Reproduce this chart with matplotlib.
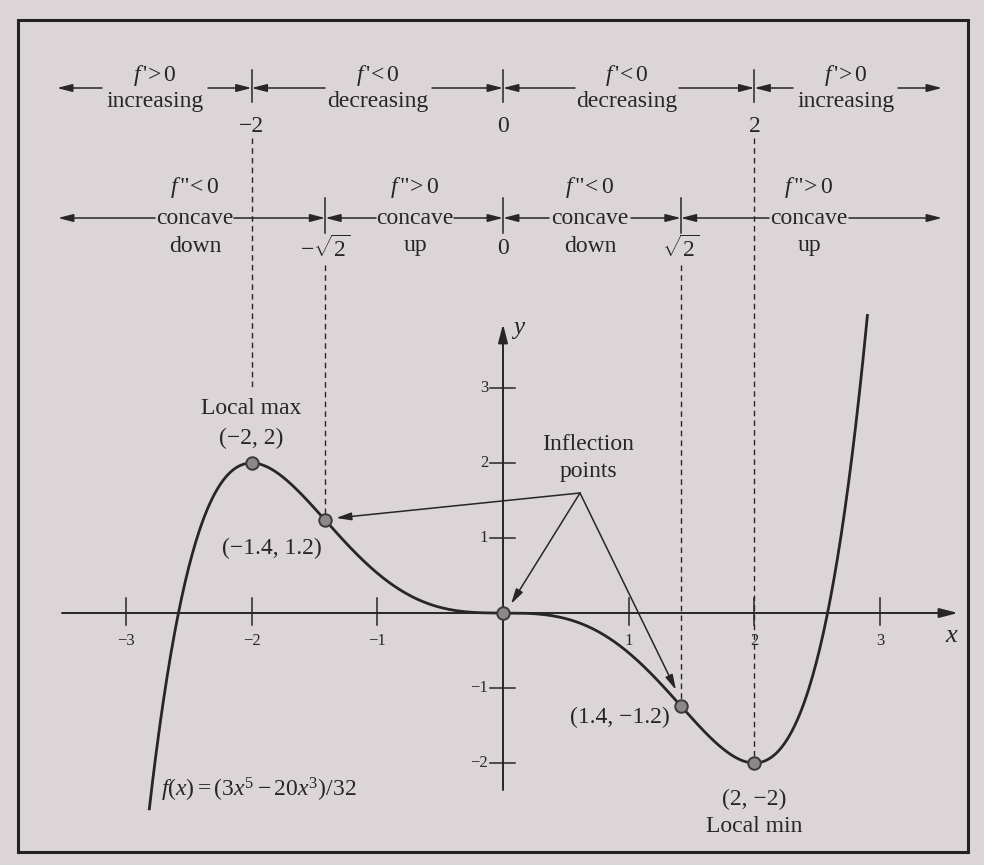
import numpy as np
import matplotlib
matplotlib.use("Agg")
import matplotlib.pyplot as plt
from matplotlib.patches import FancyArrowPatch, Rectangle

plt.rcParams['font.family'] = ['Liberation Serif', 'DejaVu Serif']
plt.rcParams['mathtext.fontset'] = 'custom'
plt.rcParams['mathtext.rm'] = 'Liberation Serif'
plt.rcParams['mathtext.it'] = 'Liberation Serif:italic'
plt.rcParams['mathtext.bf'] = 'Liberation Serif:bold'

# ---------------- data ----------------
coeffs = np.array([3, 0, -20, 0, 0, 0]) / 32.0      # f(x) = (3x^5 - 20x^3)/32
x_start, x_end = -2.815, 2.9
critical_x = [-2, 0, 2]
critical_labels = ['−2', '0', '2']
inflection_x = [-np.sqrt(2), 0, np.sqrt(2)]
inflection_labels = [r'$-\sqrt{2}$', '0', r'$\sqrt{2}$']
row1_signs = [r"$f\,$'$\!>$0", r"$f\,$'$\!<$0", r"$f\,$'$\!<$0", r"$f\,$'$\!>$0"]
row1_words = ['increasing', 'decreasing', 'decreasing', 'increasing']
row2_signs = [r'$f\,$"$\!<$0', r'$f\,$"$\!>$0', r'$f\,$"$\!<$0', r'$f\,$"$\!>$0']
row2_words = ['down', 'up', 'down', 'up']
marked_x = [-2, -np.sqrt(2), 0, np.sqrt(2), 2]
point_labels = ['(−1.4, 1.2)', '(1.4, −1.2)']
x_ticks = [-3, -2, -1, 1, 2, 3]
y_ticks = [-2, -1, 1, 2, 3]

INK = '#262626'
BG = '#dcd5d7'

# --------------- layout helpers (pixel -> data) ---------------
W, H = 984, 865
X0, Y0 = 503, 613
SX, SY = 125.7, 75.0
def X(px): return (px - X0) / SX
def Y(py): return (Y0 - py) / SY

fig = plt.figure(figsize=(W / 100, H / 100), dpi=100, facecolor=BG)
ax = fig.add_axes([0, 0, 1, 1])
ax.set_facecolor(BG)
ax.set_xlim(X(0), X(W))
ax.set_ylim(Y(H), Y(0))
ax.axis('off')

def f(x):
    return np.polyval(coeffs, x)

def arrow(x1, y1, x2, y2, lw=1.1, ms=13):
    ax.add_patch(FancyArrowPatch((x1, y1), (x2, y2),
                 arrowstyle='-|>,head_length=0.7,head_width=0.18',
                 mutation_scale=ms, lw=lw, color=INK,
                 shrinkA=0, shrinkB=0))

TS = 17  # main text size

# frame
ax.add_patch(Rectangle((X(18), Y(852)), X(968) - X(18), Y(20) - Y(852),
                       fill=False, lw=2.2, ec='#222222'))

# ---------------- row 1: first derivative ----------------
ry1 = Y(88)
centers1 = [X(155), X(378), X(627), X(846)]
for c, s, w in zip(centers1, row1_signs, row1_words):
    ax.text(c, Y(76), s, ha='center', va='center', fontsize=TS, color=INK)
    ax.text(c, Y(102), w, ha='center', va='center', fontsize=TS, color=INK)
arrow(X(102), ry1, X(57), ry1)
arrow(X(208), ry1, critical_x[0], ry1)
arrow(X(325), ry1, critical_x[0], ry1)
arrow(X(432), ry1, critical_x[1], ry1)
arrow(X(575), ry1, critical_x[1], ry1)
arrow(X(679), ry1, critical_x[2], ry1)
arrow(X(793), ry1, critical_x[2], ry1)
arrow(X(898), ry1, X(942), ry1)
for cx, lab in zip(critical_x, critical_labels):
    ax.plot([cx, cx], [Y(70), Y(102)], color=INK, lw=1.1)
    ax.text(cx, Y(126), lab, ha='center', va='center', fontsize=TS, color=INK)

# ---------------- row 2: second derivative ----------------
ry2 = Y(218)
centers2 = [X(195), X(415), X(590), X(809)]
for c, s, w in zip(centers2, row2_signs, row2_words):
    ax.text(c, Y(187), s, ha='center', va='center', fontsize=TS, color=INK)
    ax.text(c, ry2, 'concave', ha='center', va='center', fontsize=TS, color=INK)
    ax.text(c, Y(246), w, ha='center', va='center', fontsize=TS, color=INK)
arrow(X(155), ry2, X(58), ry2)
arrow(X(234), ry2, inflection_x[0], ry2)
arrow(X(376), ry2, inflection_x[0], ry2)
arrow(X(454), ry2, inflection_x[1], ry2)
arrow(X(549), ry2, inflection_x[1], ry2)
arrow(X(631), ry2, inflection_x[2], ry2)
arrow(X(769), ry2, inflection_x[2], ry2)
arrow(X(849), ry2, X(942), ry2)
for ix, lab in zip(inflection_x, inflection_labels):
    ax.plot([ix, ix], [Y(198), Y(233)], color=INK, lw=1.1)
    ax.text(ix, Y(249), lab, ha='center', va='center', fontsize=TS, color=INK)

# ---------------- dashed guide lines ----------------
dash = dict(color=INK, lw=1.0, ls=(0, (4, 3)))
ax.plot([critical_x[0]] * 2, [Y(138), Y(390)], **dash)
ax.plot([inflection_x[0]] * 2, [Y(265), f(inflection_x[0])], **dash)
ax.plot([inflection_x[2]] * 2, [Y(265), f(inflection_x[2])], **dash)
ax.plot([critical_x[2]] * 2, [Y(138), f(critical_x[2])], **dash)

# ---------------- axes ----------------
arrow(X(62), 0, X(958), 0, lw=1.4, ms=16)
arrow(0, Y(790), 0, Y(324), lw=1.4, ms=16)
for t in x_ticks:
    ax.plot([t, t], [Y(598), Y(625)], color=INK, lw=1.1)
    ax.text(t, Y(641), ('−' if t < 0 else '') + str(abs(t)), ha='center',
            va='center', fontsize=12, color=INK)
for t in y_ticks:
    ax.plot([X(490), X(515)], [t, t], color=INK, lw=1.1)
    ax.text(X(488), t, ('−' if t < 0 else '') + str(abs(t)), ha='right',
            va='center', fontsize=12, color=INK)
ax.text(X(952), Y(636), r'$x$', ha='center', va='center', fontsize=19, color=INK)
ax.text(X(519), Y(330), r'$y$', ha='center', va='center', fontsize=18, color=INK)

# ---------------- curve ----------------
xs = np.linspace(x_start, x_end, 600)
ax.plot(xs, f(xs), color=INK, lw=2.0, solid_capstyle='butt')
mx = np.array(marked_x)
ax.plot(mx, f(mx), 'o', ms=9, mfc='#8c8789', mec='#3a3a3a', mew=1.4, zorder=5)

# ---------------- annotations ----------------
ax.text(critical_x[0], Y(409), 'Local max', ha='center', va='center', fontsize=TS, color=INK)
ax.text(critical_x[0], Y(438), '(−2, 2)', ha='center', va='center', fontsize=TS, color=INK)
ax.text(X(272), Y(548), point_labels[0], ha='center', va='center', fontsize=TS, color=INK)
ax.text(X(620), Y(717), point_labels[1], ha='center', va='center', fontsize=TS, color=INK)
ax.text(critical_x[2], Y(799), '(2, −2)', ha='center', va='center', fontsize=TS, color=INK)
ax.text(critical_x[2], Y(826), 'Local min', ha='center', va='center', fontsize=TS, color=INK)
ax.text(X(588), Y(445), 'Inflection', ha='center', va='center', fontsize=TS, color=INK)
ax.text(X(588), Y(472), 'points', ha='center', va='center', fontsize=TS, color=INK)
ax.text(X(161), Y(790), r'$f(x) = (3x^5 - 20x^3)/32$', ha='left', va='center',
        fontsize=TS, color=INK)

apex = (X(580), Y(493))
arrow(apex[0], apex[1], X(336), Y(518))
arrow(apex[0], apex[1], X(511), Y(604))
arrow(apex[0], apex[1], X(676), Y(690))

fig.savefig('out.png', dpi=100, facecolor=BG)
